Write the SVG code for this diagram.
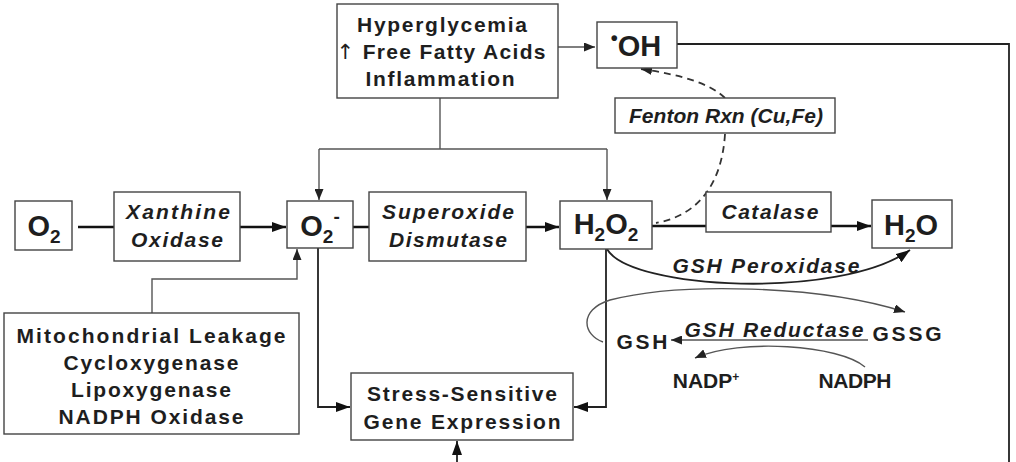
<svg xmlns="http://www.w3.org/2000/svg" width="1016" height="462" viewBox="0 0 1016 462">
<style>
.bg{fill:#fff}
.box{fill:#fff;stroke:#444;stroke-width:1.4}
.lbl{font-family:"Liberation Sans",Arial,sans-serif;font-weight:bold;font-size:21px;fill:#1e1e1e;text-anchor:middle}
.it{font-style:italic}
.chem{font-size:29px}
.thin{fill:none;stroke:#555;stroke-width:1.4}
.mid{fill:none;stroke:#222;stroke-width:1.8}
.thick{fill:none;stroke:#111;stroke-width:2.6}
.dash{fill:none;stroke:#333;stroke-width:1.8;stroke-dasharray:7 5}
</style>
<defs>
<marker id="ah" viewBox="0 0 14 10" refX="14" refY="5" markerWidth="14" markerHeight="10" markerUnits="userSpaceOnUse" orient="auto"><path d="M0,0 L14,5 L0,10 z" fill="#111"/></marker>
<marker id="as" viewBox="0 0 11 9" refX="11" refY="4.5" markerWidth="11" markerHeight="9" markerUnits="userSpaceOnUse" orient="auto"><path d="M0,0 L11,4.5 L0,9 z" fill="#222"/></marker>
</defs>
<rect class="bg" x="0" y="0" width="1016" height="462"/>

<g id="connectors">
<line class="thin" x1="558" y1="47" x2="595" y2="47" marker-end="url(#as)"/>
<polyline class="mid" points="677,44 1009,44 1009,462"/>
<line class="thin" x1="440" y1="98" x2="440" y2="149"/>
<line class="thin" x1="319" y1="149" x2="607" y2="149"/>
<line class="thin" x1="319" y1="149" x2="319" y2="200" marker-end="url(#as)"/>
<line class="thin" x1="607" y1="149" x2="607" y2="200" marker-end="url(#as)"/>
<line class="thick" x1="78" y1="227" x2="286" y2="227" marker-end="url(#ah)"/>
<line class="thick" x1="353" y1="227" x2="559" y2="227" marker-end="url(#ah)"/>
<line class="thick" x1="652" y1="226" x2="871" y2="226" marker-end="url(#ah)"/>
<polyline class="thin" points="152,313 152,279 297,279 297,249" marker-end="url(#as)"/>
<polyline class="mid" points="318,248 318,407 350,407" marker-end="url(#ah)"/>
<polyline class="mid" points="606,249 606,407 574,407" marker-end="url(#ah)"/>
<line class="mid" x1="457" y1="462" x2="457" y2="441" marker-end="url(#ah)"/>
<path class="dash" d="M725,98 Q705,78 641,69" marker-end="url(#as)"/>
<path class="dash" d="M725,134 C722,182 700,215 656,223"/>
<path class="mid" d="M607,249 C630,290 840,300 910,250" marker-end="url(#ah)"/>
<path class="thin" d="M603,342 C583,335 578,310 610,300 C680,282 820,285 905,312" marker-end="url(#as)"/>
<line class="thin" x1="868" y1="340" x2="671" y2="340" marker-end="url(#as)"/>
<path class="thin" d="M865,367 C840,345 740,338 695,358" marker-end="url(#as)"/>
</g>

<g id="n-causes">
<rect class="box" x="337" y="4" width="221" height="94"/>
<text class="lbl" x="442" y="32" textLength="170">Hyperglycemia</text>
<text class="lbl" x="441" y="59" textLength="209"><tspan font-family="DejaVu Sans" font-weight="normal">↑</tspan> Free Fatty Acids</text>
<text class="lbl" x="440" y="86" textLength="149">Inflammation</text>
</g>

<g id="n-oh">
<rect class="box" x="597" y="22" width="80" height="46"/>
<text class="lbl chem" x="636" y="56"><tspan font-size="20" dy="-11">•</tspan><tspan dy="11">OH</tspan></text>
</g>

<g id="n-fenton">
<rect class="box" x="615" y="98" width="220" height="35"/>
<text class="lbl it" x="726" y="123" font-size="18" textLength="194">Fenton Rxn (Cu,Fe)</text>
</g>

<g id="n-o2">
<rect class="box" x="15" y="201" width="57" height="49"/>
<text class="lbl chem" x="44" y="236">O<tspan font-size="19" dy="7">2</tspan></text>
</g>

<g id="n-xo">
<rect class="box" x="114" y="192" width="126" height="69"/>
<text class="lbl it" x="178" y="219" textLength="104">Xanthine</text>
<text class="lbl it" x="177" y="247" textLength="92">Oxidase</text>
</g>

<g id="n-o2minus">
<rect class="box" x="287" y="201" width="66" height="47"/>
<text class="lbl chem" x="320" y="236">O<tspan font-size="19" dy="7">2</tspan><tspan font-size="19" dy="-20">-</tspan></text>
</g>

<g id="n-sod">
<rect class="box" x="369" y="192" width="157" height="69"/>
<text class="lbl it" x="448" y="219" textLength="132">Superoxide</text>
<text class="lbl it" x="448" y="247" textLength="118">Dismutase</text>
</g>

<g id="n-h2o2">
<rect class="box" x="560" y="201" width="92" height="48"/>
<text class="lbl chem" x="606" y="234">H<tspan font-size="19" dy="7">2</tspan><tspan dy="-7">O</tspan><tspan font-size="19" dy="7">2</tspan></text>
</g>

<g id="n-catalase">
<rect class="box" x="706" y="192" width="125" height="40"/>
<text class="lbl it" x="770" y="219" textLength="97">Catalase</text>
</g>

<g id="n-h2o">
<rect class="box" x="872" y="200" width="80" height="48"/>
<text class="lbl chem" x="911" y="235">H<tspan font-size="19" dy="7">2</tspan><tspan dy="-7">O</tspan></text>
</g>

<g id="n-sources">
<rect class="box" x="4" y="313" width="295" height="121"/>
<text class="lbl" x="151" y="343" textLength="269">Mitochondrial Leakage</text>
<text class="lbl" x="151" y="370" textLength="175">Cycloxygenase</text>
<text class="lbl" x="151" y="397" textLength="160">Lipoxygenase</text>
<text class="lbl" x="151" y="424" textLength="185">NADPH Oxidase</text>
</g>

<g id="n-stress">
<rect class="box" x="351" y="373" width="222" height="67"/>
<text class="lbl" x="462" y="401" textLength="190">Stress-Sensitive</text>
<text class="lbl" x="462" y="429" textLength="197">Gene Expression</text>
</g>

<g id="e-labels">
<text class="lbl it" x="766" y="273" font-size="20" textLength="187">GSH Peroxidase</text>
<text class="lbl it" x="774" y="337" font-size="20" textLength="179">GSH Reductase</text>
</g>

<g id="n-gsh"><text class="lbl" x="642" y="349" font-size="22" textLength="51">GSH</text></g>
<g id="n-gssg"><text class="lbl" x="907" y="341" font-size="22" textLength="69">GSSG</text></g>
<g id="n-nadp"><text class="lbl" x="706" y="388" font-size="18">NADP<tspan font-size="12" dy="-7">+</tspan></text></g>
<g id="n-nadph"><text class="lbl" x="855" y="388" font-size="18" textLength="73">NADPH</text></g>
</svg>
